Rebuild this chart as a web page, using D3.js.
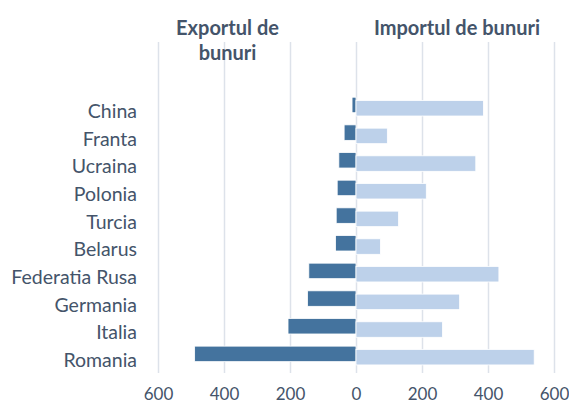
<!DOCTYPE html>
<html>
<head>
<meta charset="utf-8">
<script src="https://cdn.jsdelivr.net/npm/d3@7"></script>
<style>
  body { margin: 0; background: #fff; }
  text { font-family: Lato, "Open Sans", sans-serif; fill: #44546a; }
</style>
</head>
<body>
<div id="chart"></div>
<script>
const categories = ["China", "Franta", "Ucraina", "Polonia", "Turcia", "Belarus",
  "Federatia Rusa", "Germania", "Italia", "Romania"];
const exportValues = [12, 36, 52, 57, 60, 62, 143, 147, 206, 489];
const importValues = [386, 95, 363, 213, 129, 74, 433, 314, 262, 540];
const tickValues = [-600, -400, -200, 0, 200, 400, 600];

const width = 569, height = 403;

const svg = d3.select('#chart')
  .append('svg')
    .attr('width', width)
    .attr('height', height);

const x = d3.scaleLinear()
  .domain([-600, 600])
  .range([158, 554]);

const y = d3.scaleBand()
  .domain(categories)
  .range([97.2, 373.8]);

const gridTop = 42, gridBottom = 373;

// gridlines + bottom tick labels
const xAxis = d3.axisBottom(x)
  .tickValues(tickValues)
  .tickFormat(d => Math.abs(d))
  .tickSize(-(gridBottom - gridTop))
  .tickPadding(15);

const xAxisGroup = svg.append('g')
  .attr('transform', `translate(0,${gridBottom})`)
  .call(xAxis);
xAxisGroup.select('.domain').remove();
xAxisGroup.selectAll('line')
  .attr('stroke', '#dde2ea')
  .attr('stroke-width', 1.5);
xAxisGroup.selectAll('text')
  .attr('font-size', 17)
  .attr('fill', '#44546a')
  .style('font-family', 'Lato, sans-serif');

const barH = 15.5;
const importShift = 3.3;

// export bars (left)
svg.append('g').selectAll('rect')
  .data(categories)
  .enter()
  .append('rect')
    .attr('x', (d, i) => x(-exportValues[i]))
    .attr('y', d => y(d))
    .attr('width', (d, i) => x(0) - x(-exportValues[i]))
    .attr('height', barH)
    .attr('fill', '#44739e')
    .attr('stroke', '#fff')
    .attr('stroke-width', 0.8);

// import bars (right)
svg.append('g').selectAll('rect')
  .data(categories)
  .enter()
  .append('rect')
    .attr('x', x(0))
    .attr('y', d => y(d) + importShift)
    .attr('width', (d, i) => x(importValues[i]) - x(0))
    .attr('height', barH)
    .attr('fill', '#bdd1ea')
    .attr('stroke', '#fff')
    .attr('stroke-width', 0.8);

// category labels
svg.append('g').selectAll('text')
  .data(categories)
  .enter()
  .append('text')
    .attr('x', 137)
    .attr('y', d => y(d) + y.bandwidth() / 2 + 7)
    .attr('text-anchor', 'end')
    .attr('font-size', 19.5)
    .text(d => d);

// titles
const exportTitle = svg.append('text')
  .attr('text-anchor', 'middle')
  .attr('font-size', 20)
  .attr('font-weight', 'bold');
exportTitle.append('tspan').attr('x', 227.5).attr('y', 35).text('Exportul de');
exportTitle.append('tspan').attr('x', 227.5).attr('y', 60).text('bunuri');

svg.append('text')
  .attr('x', 457)
  .attr('y', 35)
  .attr('text-anchor', 'middle')
  .attr('font-size', 20)
  .attr('font-weight', 'bold')
  .text('Importul de bunuri');
</script>
</body>
</html>
